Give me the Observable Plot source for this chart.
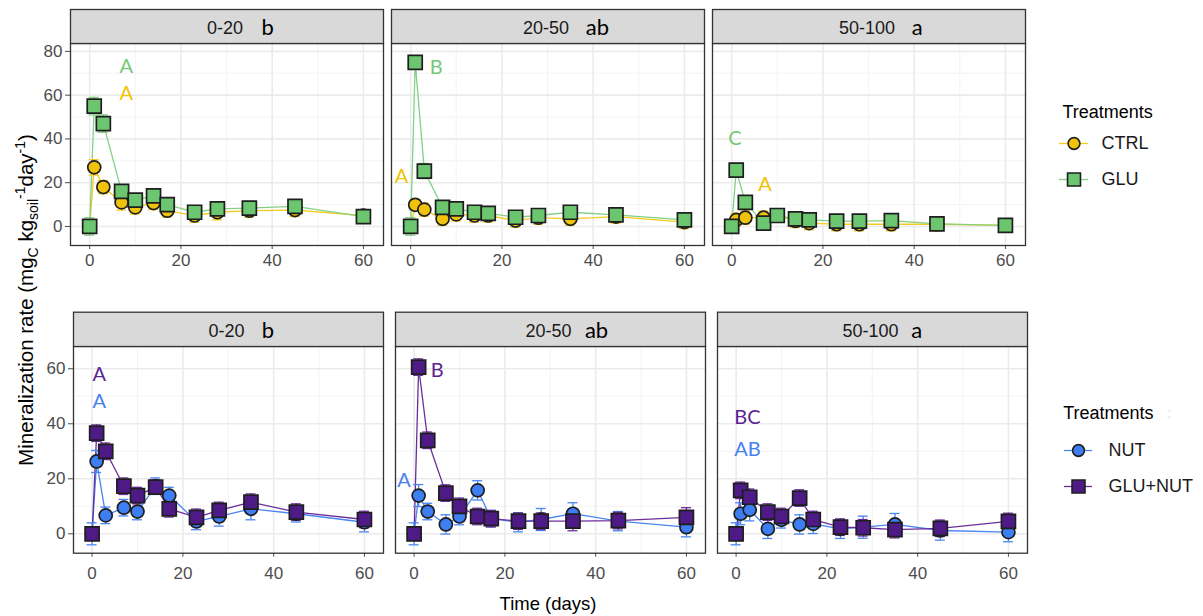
<!DOCTYPE html>
<html><head><meta charset="utf-8">
<script src="https://cdn.jsdelivr.net/npm/d3@7"></script>
<script src="https://cdn.jsdelivr.net/npm/@observablehq/plot@0.6"></script>
<style>
body{margin:0;background:#fff;}
#root{position:relative;width:1203px;height:616px;overflow:hidden;background:#fff;font-family:"Liberation Sans",Arial,sans-serif;}
.abs{position:absolute;}
.abs svg{overflow:visible;}
</style></head><body><div id="root"></div>
<script>
// ---------- data ----------
const times = [0, 1, 3, 7, 10, 14, 17, 23, 28, 35, 45, 60];
const depths = ["0-20", "20-50", "50-100"];
const depthGroups = ["b", "ab", "a"];
const xTicks = [0, 20, 40, 60];
const xMinor = [10, 30, 50];
const yTicksTop = [0, 20, 40, 60, 80];
const yMinorTop = [10, 30, 50, 70];
const yTicksBottom = [0, 20, 40, 60];
const yMinorBottom = [10, 30, 50];
const treatmentsTop = ["CTRL", "GLU"];
const treatmentsBottom = ["NUT", "GLU+NUT"];

// top row: CTRL and GLU
const ctrl_0_20      = [0, 27, 18, 11, 8.7, 10.7, 7.2, 5, 6.5, 7.2, 7.5, 5];
const ctrl_0_20_se   = [2, 3.5, 3, 3.5, 3, 3, 3, 3, 3.5, 3, 3, 2.5];
const glu_0_20       = [0, 55, 47, 16, 12, 14, 10, 6.5, 8, 8.4, 9.2, 4.5];
const glu_0_20_se    = [4, 4, 4, 3, 3, 3, 3, 3, 3, 3, 3, 3];
const ctrl_20_50     = [0, 9.9, 7.7, 3.5, 5.5, 5, 5, 2.7, 4, 3.5, 4.5, 2];
const ctrl_20_50_se  = [2, 2.5, 3, 3, 3, 3, 3, 3, 3, 3, 3, 3];
const glu_20_50      = [0, 75, 25.3, 8.7, 8, 6.5, 6, 4.2, 5, 6.5, 5.3, 3];
const glu_20_50_se   = [4, 3, 3.5, 3, 3, 3, 3, 3, 3, 3, 3, 3];
const ctrl_50_100    = [0, 3, 4, 4, 5, 2.5, 1.5, 1, 1, 1, 1, 0.5];
const ctrl_50_100_se = [2, 3, 3, 3, 3, 3, 3, 3, 3, 3, 3, 3];
const glu_50_100     = [0, 25.7, 11, 1.5, 5, 3.5, 3, 2.4, 2.4, 2.7, 1.2, 0.5];
const glu_50_100_se  = [3, 3, 3, 3, 3, 3, 3, 3, 3, 3, 3, 3];

// bottom row: NUT and GLU+NUT
const nut_0_20       = [0, 26.3, 6.7, 9.5, 8.1, 17.3, 13.9, 4.5, 6.3, 9.1, 7.3, 4.2];
const nut_0_20_se    = [4, 4, 3, 3, 3, 3, 3, 3, 3.5, 4, 3, 3.5];
const gn_0_20        = [0, 36.6, 30, 17.3, 13.9, 17, 9.1, 6, 8.5, 11.5, 7.9, 5.2];
const gn_0_20_se     = [2, 3, 3, 3, 3, 2.5, 3, 3, 3, 3, 3, 3];
const nut_20_50      = [0, 13.9, 8.1, 3.4, 6.3, 15.8, 5.5, 4.2, 5.2, 7.3, 4.6, 2.4];
const nut_20_50_se   = [4, 4, 3, 3.5, 3, 3.5, 3, 3.5, 4, 4, 3.5, 3.5];
const gn_20_50       = [0, 60.6, 34, 14.8, 10, 6.3, 5.5, 4.6, 4.6, 4.6, 4.8, 6];
const gn_20_50_se    = [2, 3, 3, 3, 3, 3, 3, 3, 3, 3.5, 3, 3.5];
const nut_50_100     = [0, 7.3, 8.7, 1.8, 5.1, 3.4, 3.6, 1.8, 2.4, 3.4, 1.2, 0.6];
const nut_50_100_se  = [4, 4, 4, 3.5, 3, 3.5, 3.5, 3.5, 4, 4, 3.5, 3.5];
const gn_50_100      = [0, 15.8, 13.3, 7.9, 6.3, 13, 5.2, 2.4, 2.2, 1.5, 2, 4.5];
const gn_50_100_se   = [2, 3, 3, 3, 3, 3, 3, 3, 3, 3, 3, 3];

// significance letters (anchored at day / rate values)
const letterTopDepth  = ["0-20", "0-20", "20-50", "20-50", "50-100", "50-100"];
const letterTopTreat  = ["GLU", "CTRL", "CTRL", "GLU", "GLU", "CTRL"];
const letterTopText   = ["A", "A", "A", "B", "C", "A"];
const letterTopDay    = [8, 8, -2, 5.6, 0.7, 7.3];
const letterTopRate   = [72.9, 60.6, 23, 72.5, 40, 19.3];
const letterBotDepth  = ["0-20", "0-20", "20-50", "20-50", "50-100", "50-100"];
const letterBotTreat  = ["GLU+NUT", "NUT", "GLU+NUT", "NUT", "GLU+NUT", "NUT"];
const letterBotText   = ["A", "A", "B", "A", "BC", "AB"];
const letterBotDay    = [1.6, 1.6, 5.1, -2.25, 2.5, 2.5];
const letterBotRate   = [58, 47.9, 59.4, 19.4, 42.4, 30.7];

// ---------- styles ----------
const styles = {
  "CTRL":    {fill: "#F0C20A", line: "#F5CB1C", text: "#F2C200", symbol: "circle", r: 6.5},
  "GLU":     {fill: "#6CC56F", line: "#84D084", text: "#74C976", symbol: "square", r: 7.9},
  "NUT":     {fill: "#3D7EF2", line: "#4A85F0", text: "#4A80EE", symbol: "circle", r: 6.5},
  "GLU+NUT": {fill: "#4E1A86", line: "#6B2D9B", text: "#5E2391", symbol: "square", r: 7.9}
};

function rows(treat, depth, mean, se) {
  return times.map((t, i) => ({treat, depth, t, v: mean[i], se: se[i]}));
}
const topData = [
  ...rows("CTRL", "0-20", ctrl_0_20, ctrl_0_20_se),
  ...rows("CTRL", "20-50", ctrl_20_50, ctrl_20_50_se),
  ...rows("CTRL", "50-100", ctrl_50_100, ctrl_50_100_se),
  ...rows("GLU", "0-20", glu_0_20, glu_0_20_se),
  ...rows("GLU", "20-50", glu_20_50, glu_20_50_se),
  ...rows("GLU", "50-100", glu_50_100, glu_50_100_se)
];
const bottomData = [
  ...rows("NUT", "0-20", nut_0_20, nut_0_20_se),
  ...rows("NUT", "20-50", nut_20_50, nut_20_50_se),
  ...rows("NUT", "50-100", nut_50_100, nut_50_100_se),
  ...rows("GLU+NUT", "0-20", gn_0_20, gn_0_20_se),
  ...rows("GLU+NUT", "20-50", gn_20_50, gn_20_50_se),
  ...rows("GLU+NUT", "50-100", gn_50_100, gn_50_100_se)
];
const topLetters = letterTopText.map((s, i) => ({depth: letterTopDepth[i], treat: letterTopTreat[i], label: s, t: letterTopDay[i], v: letterTopRate[i]}));
const bottomLetters = letterBotText.map((s, i) => ({depth: letterBotDepth[i], treat: letterBotTreat[i], label: s, t: letterBotDay[i], v: letterBotRate[i]}));

// ---------- chart builder ----------
function facetChart(o) {
  const plotH = o.height - o.marginTop - o.marginBottom;
  const marks = [
    Plot.ruleX(xMinor, {x: d => d, stroke: "#F2F2F2", strokeWidth: 0.9}),
    Plot.ruleY(o.yMinor, {y: d => d, stroke: "#F2F2F2", strokeWidth: 0.9}),
    Plot.ruleX(xTicks, {x: d => d, stroke: "#EBEBEB", strokeWidth: 1.6}),
    Plot.ruleY(o.yTicks, {y: d => d, stroke: "#EBEBEB", strokeWidth: 1.6})
  ];
  for (const tr of o.treatments) {
    const s = styles[tr], d = o.data.filter(r => r.treat === tr);
    marks.push(Plot.line(d, {x: "t", y: "v", fx: "depth", stroke: s.line, strokeWidth: 1.3}));
  }
  for (const tr of o.treatments) {
    const s = styles[tr], d = o.data.filter(r => r.treat === tr);
    marks.push(
      Plot.ruleX(d, {x: "t", y1: r => r.v - r.se, y2: r => r.v + r.se, fx: "depth", stroke: s.line, strokeWidth: 1.3}),
      Plot.ruleY(d, {y: r => r.v + r.se, x1: r => r.t - 1.1, x2: r => r.t + 1.1, fx: "depth", stroke: s.line, strokeWidth: 1.3}),
      Plot.ruleY(d, {y: r => r.v - r.se, x1: r => r.t - 1.1, x2: r => r.t + 1.1, fx: "depth", stroke: s.line, strokeWidth: 1.3})
    );
  }
  for (const tr of o.treatments) {
    const s = styles[tr], d = o.data.filter(r => r.treat === tr);
    marks.push(Plot.dot(d, {x: "t", y: "v", fx: "depth", symbol: s.symbol, r: s.r, fill: s.fill, stroke: "#1E1E1E", strokeWidth: 1.7}));
  }
  marks.push(
    Plot.frame({stroke: "#333333", strokeWidth: 1.3}),
    Plot.frame({fill: "#D9D9D9", stroke: "#333333", strokeWidth: 1.3, insetTop: -o.stripH, insetBottom: plotH}),
    Plot.text(depths, {fx: d => d, text: d => d, frameAnchor: "top", lineAnchor: "middle", dy: o.labelDy, dx: -2, fontSize: 18, fill: "#1A1A1A"})
  );
  depths.forEach((dep, i) => {
    marks.push(Plot.text([dep], {fx: d => d, text: () => depthGroups[i], frameAnchor: "top", lineAnchor: "middle", textAnchor: "start",
      dx: o.groupDx[i], dy: o.groupDy, fontSize: 22, fontFamily: "Lato, 'Open Sans', sans-serif", fill: "#000"}));
  });
  for (const tr of o.treatments) {
    marks.push(Plot.text(o.letters.filter(l => l.treat === tr), {x: "t", y: "v", fx: "depth", text: "label",
      fontSize: 20, fontFamily: "Lato, 'Open Sans', sans-serif", fill: styles[tr].text}));
  }
  return Plot.plot({
    width: o.width, height: o.height,
    marginLeft: o.marginLeft, marginRight: o.marginRight, marginTop: o.marginTop, marginBottom: o.marginBottom,
    style: {fontFamily: "'Liberation Sans', Arial, sans-serif", fontSize: "17px", color: "#4D4D4D", background: "transparent", overflow: "visible"},
    fx: {domain: depths, paddingInner: o.padInner, paddingOuter: 0, axis: null, label: null},
    x: {domain: o.xDomain, ticks: xTicks, tickSize: 4, tickPadding: o.xTickPad, label: null},
    y: {domain: o.yDomain, ticks: o.yTicks, tickSize: 5, tickPadding: 3, label: null},
    marks
  });
}

function legendChart(names, L) {
  return Plot.plot({
    width: 160, height: 115, marginLeft: 0, marginRight: 0, marginTop: 0, marginBottom: 0,
    style: {fontFamily: "'Liberation Sans', Arial, sans-serif", fontSize: "18px", background: "transparent", overflow: "visible"},
    x: {domain: [0, 160], range: [0, 160], axis: null},
    y: {type: "point", domain: names, range: L.rowY, padding: 0, axis: null},
    marks: [
      Plot.text(["Treatments"], {frameAnchor: "top-left", lineAnchor: "middle", dx: L.titleX, dy: L.titleY, textAnchor: "start", fontSize: 18, fill: "#000"}),
      ...(L.extra ? [Plot.text([":"], {frameAnchor: "top-left", lineAnchor: "middle", dx: L.extra, dy: L.titleY, textAnchor: "start", fontSize: 14, fill: "#C9DBF0"})] : []),
      Plot.ruleY(names, {y: d => d, x1: L.lineX1, x2: L.lineX2, stroke: d => styles[d].line, strokeWidth: 1.3}),
      ...names.map(n => Plot.dot([n], {x: L.symX, y: d => d, symbol: styles[n].symbol, r: styles[n].r - 0.6,
        fill: styles[n].fill, stroke: "#1E1E1E", strokeWidth: 1.6})),
      Plot.text(names, {x: L.textX, y: d => d, text: d => d, textAnchor: "start", lineAnchor: "middle", fontSize: 18, fill: "#1A1A1A"})
    ]
  });
}

// ---------- layout ----------
const root = document.getElementById("root");
function place(node, left, top) {
  const w = document.createElement("div");
  w.className = "abs"; w.style.left = left + "px"; w.style.top = top + "px";
  w.appendChild(node); root.appendChild(w); return w;
}

place(facetChart({
  data: topData, treatments: treatmentsTop, letters: topLetters,
  width: 1040, height: 270, marginLeft: 69, marginRight: 15, marginTop: 43, marginBottom: 25,
  padInner: 0.0264, xDomain: [-4.2, 64.4], yDomain: [-8.7, 83.6], yTicks: yTicksTop, yMinor: yMinorTop,
  stripH: 34, labelDy: -15, groupDx: [34.5, 37.7, 42.7], groupDy: -16, xTickPad: 4
}), 0, 0);

place(facetChart({
  data: bottomData, treatments: treatmentsBottom, letters: bottomLetters,
  width: 1040, height: 316, marginLeft: 71.7, marginRight: 12, marginTop: 46, marginBottom: 63.3,
  padInner: 0.036, xDomain: [-4.1, 64.2], yDomain: [-7.05, 68.1], yTicks: yTicksBottom, yMinor: yMinorBottom,
  stripH: 34.3, labelDy: -15, groupDx: [33.3, 34.4, 38.7], groupDy: -16, xTickPad: 10
}), 0, 300);

place(legendChart(treatmentsTop, {rowY: [142.7 - 90, 179 - 90], titleX: 22, titleY: 21.7, lineX1: 19, lineX2: 48, symX: 33.5, textX: 61}), 1040, 90);
place(legendChart(treatmentsBottom, {rowY: [450 - 390, 486.7 - 390], titleX: 22.7, titleY: 22.7, lineX1: 24, lineX2: 52, symX: 38, textX: 68, extra: 127}), 1040, 390);

// axis titles
const ylab = document.createElement("div");
ylab.className = "abs";
Object.assign(ylab.style, {left: "-230px", top: "287px", width: "500px", height: "26px", lineHeight: "26px",
  textAlign: "center", fontSize: "20.5px", color: "#000", transform: "rotate(-90deg)", transformOrigin: "50% 50%", whiteSpace: "nowrap"});
ylab.innerHTML = 'Mineralization rate (mg<sub style="font-size:14px">C</sub> kg<sub style="font-size:14px">soil</sub><sup style="font-size:14px">-1</sup>day<sup style="font-size:14px">-1</sup>)';
root.appendChild(ylab);

const xlab = document.createElement("div");
xlab.className = "abs";
Object.assign(xlab.style, {left: "448px", top: "592px", width: "200px", height: "24px", lineHeight: "24px",
  textAlign: "center", fontSize: "18.5px", color: "#000"});
xlab.textContent = "Time (days)";
root.appendChild(xlab);
</script></body></html>
